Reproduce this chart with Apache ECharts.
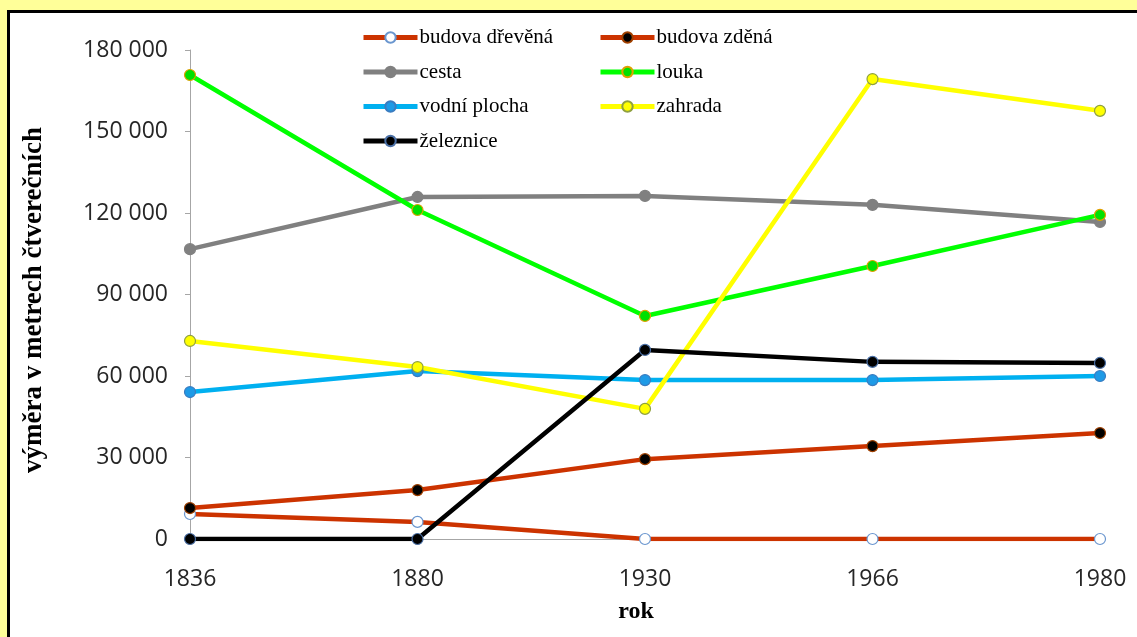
<!DOCTYPE html>
<html>
<head>
<meta charset="utf-8">
<script src="https://cdn.jsdelivr.net/npm/echarts@6/dist/echarts.min.js"></script>
<style>
html,body{margin:0;padding:0;width:1137px;height:637px;overflow:hidden;background:#FFFF99;}
#box{position:absolute;left:7px;top:10px;width:1140px;height:640px;border:3px solid #000;background:#fff;}
#chart{position:absolute;left:0;top:0;width:1137px;height:637px;}
</style>
</head>
<body>
<div id="box"></div>
<div id="chart"></div>
<script>
const categories = ['1836', '1880', '1930', '1966', '1980'];
const yTicks = { min: 0, max: 180000, interval: 30000 };
const budovaDrevena = [9200, 6300, 0, 0, 0];
const budovaZdena = [11400, 18000, 29400, 34200, 39000];
const cesta = [106700, 125900, 126300, 123000, 116700];
const louka = [170800, 121100, 82100, 100500, 119300];
const vodniPlocha = [54100, 61800, 58500, 58500, 60000];
const zahrada = [72900, 63300, 47900, 169300, 157600];
const zeleznice = [0, 0, 69600, 65200, 64800];

const chart = echarts.init(document.getElementById('chart'));

function mk(name, data, line, fill, border) {
  return {
    name: name, type: 'line', data: data,
    symbol: 'circle', symbolSize: 11, showSymbol: true,
    lineStyle: { color: line, width: 4.5 },
    itemStyle: { color: fill, borderColor: border, borderWidth: 1.2 },
    emphasis: { disabled: true }
  };
}

const legendCommon = {
  orient: 'vertical', padding: 0, itemWidth: 54, itemHeight: 13, itemGap: 13.5,
  lineStyle: { width: 5 },
  textStyle: { fontFamily: 'Liberation Serif', fontSize: 21, color: '#000', lineHeight: 20, padding: [0,0,0,-3] },
  selectedMode: false
};

chart.setOption({
  animation: false,
  backgroundColor: 'transparent',
  grid: { left: 190, right: 37, top: 50, bottom: 98 },
  legend: [
    Object.assign({}, legendCommon, { left: 361, top: 27, data: ['budova dřevěná', 'cesta', 'vodní plocha', 'železnice'] }),
    Object.assign({}, legendCommon, { left: 598, top: 27, data: ['budova zděná', 'louka', 'zahrada'] })
  ],
  xAxis: {
    type: 'category', data: categories, boundaryGap: false,
    axisLine: { lineStyle: { color: '#A6A6A6', width: 1 } },
    axisTick: { show: true, length: 5, lineStyle: { color: '#A6A6A6' } },
    axisLabel: { fontFamily: 'Open Sans', fontSize: 23, color: '#262626', margin: 29 },
    splitLine: { show: false }
  },
  yAxis: {
    type: 'value', min: yTicks.min, max: yTicks.max, interval: yTicks.interval,
    axisLine: { show: true, lineStyle: { color: '#A6A6A6', width: 1 } },
    axisTick: { show: true, length: 5, lineStyle: { color: '#A6A6A6' } },
    axisLabel: {
      fontFamily: 'Open Sans', fontSize: 23, color: '#262626', margin: 22,
      formatter: function (v) { return String(v).replace(/\B(?=(\d{3})+(?!\d))/g, ' '); }
    },
    splitLine: { show: false }
  },
  graphic: [
    { type: 'text', x: 34, y: 300, rotation: Math.PI / 2,
      style: { text: 'výměra v metrech čtverečních', fontFamily: 'Liberation Serif', fontWeight: 'bold', fontSize: 27, fill: '#000', textAlign: 'center', textVerticalAlign: 'middle' } },
    { type: 'text', x: 636, y: 612,
      style: { text: 'rok', fontFamily: 'Liberation Serif', fontWeight: 'bold', fontSize: 24, fill: '#000', textAlign: 'center', textVerticalAlign: 'middle' } }
  ],
  series: [
    mk('budova dřevěná', budovaDrevena, '#CC3300', '#FFFFFF', '#6A96CF'),
    mk('budova zděná', budovaZdena, '#CC3300', '#000000', '#A04000'),
    mk('cesta', cesta, '#808080', '#808080', '#808080'),
    mk('louka', louka, '#00FF00', '#00E000', '#E0A000'),
    mk('vodní plocha', vodniPlocha, '#00B0F0', '#1E9AE6', '#3A7CC0'),
    mk('zahrada', zahrada, '#FFFF00', '#FFFF00', '#8FA040'),
    mk('železnice', zeleznice, '#000000', '#000000', '#4A6FA5')
  ]
});
</script>
</body>
</html>
